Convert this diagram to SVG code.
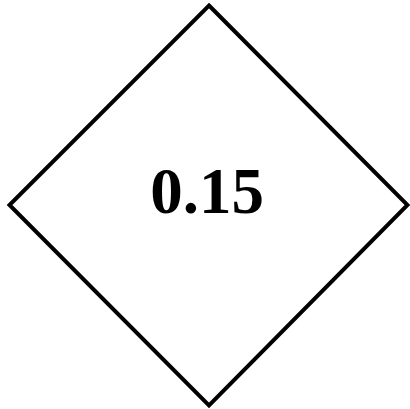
<svg xmlns="http://www.w3.org/2000/svg" width="410" height="409" viewBox="0 0 410 409">
<style>
.shape{fill:#fff;stroke:#000;stroke-width:4;stroke-linejoin:miter}
.lbl{font-family:"Liberation Serif","Times New Roman",serif;font-weight:bold;font-size:65px;fill:#000}
</style>
<rect width="410" height="409" fill="#fff"/>
<g id="node1">
<polygon class="shape" points="209,5.5 407.5,205 209,405.5 9.5,205"/>
<text class="lbl" x="207" y="213" text-anchor="middle">0.15</text>
</g>
<g id="connectors"/>
</svg>
